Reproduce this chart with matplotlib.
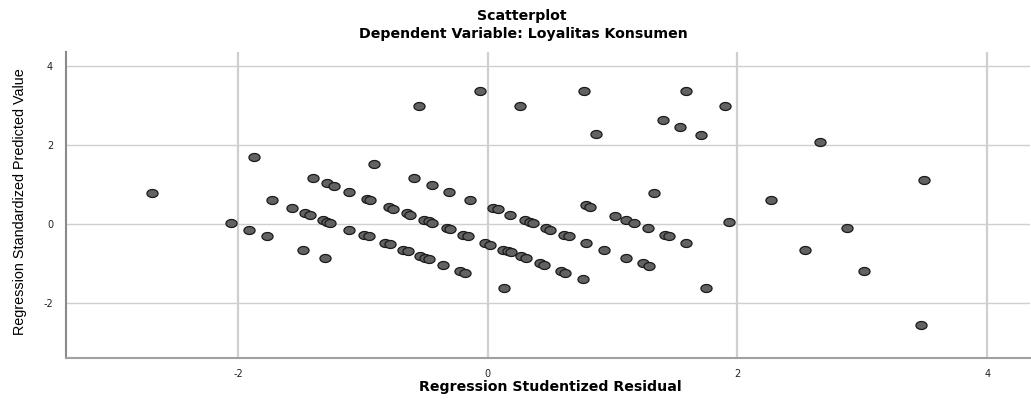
import numpy as np
import matplotlib
matplotlib.use('Agg')
import matplotlib.pyplot as plt
from matplotlib.path import Path

plt.rcParams['font.family'] = ['Liberation Sans', 'DejaVu Sans']
plt.rcParams['axes.unicode_minus'] = False

# residual (x) vs predicted value (y)
resid = [-2.69, -2.06, -1.87, -1.91, -1.77, -1.73, -1.57, -1.46, -1.42, -1.48,
         -1.30, -1.32, -1.29, -1.26, -1.11, -1.40, -1.29, -1.23, -1.11, -0.97,
         -0.94, -0.79, -0.76, -0.65, -0.62, -0.51, -0.47, -0.45, -0.33, -0.30,
         -0.20, -0.16, -0.02, 0.02, 0.12, 0.16, 0.19, 0.27, 0.31, 0.42,
         0.45, 0.59, 0.62, 0.76, 0.13,
         -0.99, -0.95, -0.82, -0.78, -0.68, -0.64, -0.54, -0.50, -0.47, -0.36,
         -0.22, -0.18,
         -0.91, -0.59, -0.45, -0.31, -0.14, 0.04, 0.08, 0.18, 0.30, 0.34,
         0.36, 0.47, 0.50, 0.61, 0.65, 0.79, 0.93, 1.11, 1.24, 1.29,
         0.79, 0.82, 1.02, 1.11, 1.17, 1.28, 1.42, 1.45, 1.59, 1.33,
         -0.06, -0.55, 0.77, 0.26, 0.87, 1.40, 1.54, 1.59, 1.90, 1.71, 2.66,
         1.75, 1.93, 2.27, 2.54, 2.88, 3.01, 3.47, 3.49]
pred = [0.78, 0.03, 1.71, -0.14, -0.31, 0.60, 0.41, 0.27, 0.24, -0.65,
        -0.86, 0.10, 0.06, 0.03, -0.14, 1.16, 1.03, 0.96, 0.81, 0.64,
        0.61, 0.44, 0.39, 0.27, 0.23, 0.10, 0.07, 0.03, -0.10, -0.13,
        -0.27, -0.31, -0.48, -0.52, -0.65, -0.69, -0.72, -0.82, -0.86, -0.99,
        -1.03, -1.20, -1.24, -1.40, -1.61,
        -0.27, -0.31, -0.48, -0.51, -0.65, -0.68, -0.82, -0.86, -0.89, -1.03,
        -1.20, -1.24,
        1.53, 1.16, 0.99, 0.81, 0.61, 0.41, 0.37, 0.23, 0.10, 0.06,
        0.03, -0.10, -0.15, -0.27, -0.31, -0.48, -0.66, -0.86, -0.99, -1.07,
        0.48, 0.44, 0.20, 0.10, 0.03, -0.11, -0.27, -0.31, -0.49, 0.78,
        3.38, 3.00, 3.38, 3.00, 2.28, 2.63, 2.45, 3.38, 3.00, 2.25, 2.08,
        -1.61, 0.06, 0.61, -0.66, -0.11, -1.20, -2.57, 1.12]

xticks = [-2, 0, 2, 4]
yticks = [-2, 0, 2, 4]

# 가로로 약간 넓은 타원 마커
t = np.linspace(0, 2 * np.pi, 40)
ellipse = Path(np.column_stack([np.cos(t), 0.72 * np.sin(t)]), closed=True)

# 원본이 가로로 늘어난 그림이라 넓은 글꼴 사용
wide = ['DejaVu Sans']

fig = plt.figure(figsize=(10.31, 4.03), dpi=100)
ax = fig.add_axes([0.0637, 0.1124, 0.935, 0.7593])

for v in xticks:
    ax.axvline(v, color='#cfcfcf', lw=1.6, zorder=0)
for v in yticks:
    ax.axhline(v, color='#cfcfcf', lw=1.0, zorder=0)

ax.scatter(resid, pred, s=64, marker=ellipse, facecolor='#626262',
           edgecolor='#1a1a1a', linewidth=0.9, zorder=3)

ax.set_xlim(-3.38, 4.34)
ax.set_ylim(-3.39, 4.37)
ax.set_xticks(xticks)
ax.set_yticks(yticks)
ax.tick_params(length=0, labelsize=7, colors='#222222')
ax.tick_params(axis='x', pad=8)
ax.tick_params(axis='y', pad=9)
for lab in ax.get_xticklabels() + ax.get_yticklabels():
    lab.set_family(wide)

ax.spines['top'].set_visible(False)
ax.spines['right'].set_visible(False)
ax.spines['left'].set_color('#8a8a8a')
ax.spines['left'].set_linewidth(1.5)
ax.spines['bottom'].set_color('#a0a0a0')
ax.spines['bottom'].set_linewidth(1.5)

fig.text(0.506, 0.96, 'Scatterplot', ha='center', va='center',
         fontsize=10.2, weight='bold', family=wide)
fig.text(0.508, 0.916, 'Dependent Variable: Loyalitas Konsumen', ha='center',
         va='center', fontsize=10.2, weight='bold', family=wide)
fig.text(0.534, 0.040, 'Regression Studentized Residual', ha='center',
         va='center', fontsize=10.2, weight='bold', family=wide)
fig.text(0.019, 0.5, 'Regression Standardized Predicted Value', ha='center',
         va='center', rotation=90, fontsize=10.4)

plt.savefig('out.png', dpi=100)
